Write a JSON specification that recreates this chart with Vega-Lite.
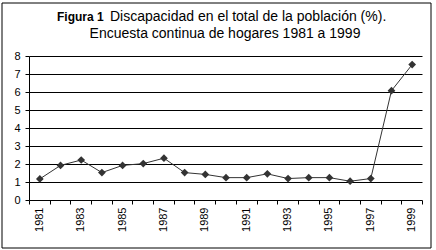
{
  "$schema": "https://vega.github.io/schema/vega-lite/v6.json",
  "width": 429,
  "height": 245,
  "autosize": "none",
  "padding": {"left": 1.5, "top": 2.5, "right": 5.5, "bottom": 2.5},
  "background": "white",
  "title": {
    "text": "Encuesta continua de hogares 1981 a 1999",
    "font": "Arial, Liberation Sans",
    "fontSize": 14,
    "fontWeight": "normal",
    "color": "black",
    "anchor": "middle",
    "dx": 9,
    "offset": -38
  },
  "datasets": {
    "series": [
      {"year": 1981, "value": 1.2},
      {"year": 1982, "value": 1.95},
      {"year": 1983, "value": 2.25},
      {"year": 1984, "value": 1.55},
      {"year": 1985, "value": 1.95},
      {"year": 1986, "value": 2.05},
      {"year": 1987, "value": 2.35},
      {"year": 1988, "value": 1.55},
      {"year": 1989, "value": 1.45},
      {"year": 1990, "value": 1.27},
      {"year": 1991, "value": 1.27},
      {"year": 1992, "value": 1.48},
      {"year": 1993, "value": 1.22},
      {"year": 1994, "value": 1.27},
      {"year": 1995, "value": 1.27},
      {"year": 1996, "value": 1.07},
      {"year": 1997, "value": 1.22},
      {"year": 1998, "value": 6.1},
      {"year": 1999, "value": 7.55}
    ],
    "grid": [
      {"v": 0}, {"v": 1}, {"v": 2}, {"v": 3}, {"v": 4}, {"v": 5}, {"v": 6}, {"v": 7}, {"v": 8}
    ],
    "one": [{}]
  },
  "config": {
    "view": {"stroke": "black", "strokeWidth": 1},
    "axis": {
      "translate": 0,
      "labelFont": "Arial, Liberation Sans",
      "labelFontSize": 11,
      "labelColor": "black",
      "tickColor": "black",
      "tickWidth": 1,
      "domain": false,
      "grid": false,
      "title": null
    }
  },
  "resolve": {"axis": {"x": "independent", "y": "independent"}},
  "layer": [
    {
      "data": {"name": "grid"},
      "mark": {"type": "rule", "color": "black", "strokeWidth": 1},
      "encoding": {
        "y": {
          "field": "v",
          "type": "quantitative",
          "scale": {"domain": [-2.6111, 11], "nice": false, "zero": false},
          "axis": null
        },
        "x": {
          "datum": 1980.5,
          "type": "quantitative",
          "scale": {"domain": [1979.1463, 1999.8868], "nice": false, "zero": false},
          "axis": {
            "orient": "bottom",
            "values": [1980.5, 1981.5, 1982.5, 1983.5, 1984.5, 1985.5, 1986.5, 1987.5, 1988.5, 1989.5, 1990.5, 1991.5, 1992.5, 1993.5, 1994.5, 1995.5, 1996.5, 1997.5, 1998.5, 1999.5],
            "labels": false,
            "offset": -47,
            "tickSize": 4,
            "title": "Discapacidad en el total de la población (%).",
            "titleFont": "Arial, Liberation Sans",
            "titleFontSize": 14,
            "titleFontWeight": "normal",
            "titleColor": "black",
            "titleAngle": 0,
            "titleAlign": "left",
            "titleBaseline": "alphabetic",
            "titleX": 108.5,
            "titleY": -179.2
          }
        },
        "x2": {"datum": 1999.5}
      }
    },
    {
      "data": {"name": "one"},
      "mark": {"type": "rule", "color": "black", "strokeWidth": 1},
      "encoding": {
        "x": {"datum": 1980.5, "type": "quantitative", "scale": {"domain": [1979.1463, 1999.8868], "nice": false, "zero": false}, "axis": null},
        "y": {"datum": 0, "type": "quantitative", "scale": {"domain": [-2.6111, 11], "nice": false, "zero": false}, "axis": null},
        "y2": {"datum": 8}
      }
    },
    {
      "data": {"name": "series"},
      "mark": {"type": "line", "color": "#333333", "strokeWidth": 1},
      "encoding": {
        "x": {
          "field": "year",
          "type": "quantitative",
          "scale": {"domain": [1979.1463, 1999.8868], "nice": false, "zero": false},
          "axis": {
            "orient": "bottom",
            "values": [1981, 1983, 1985, 1987, 1989, 1991, 1993, 1995, 1997, 1999],
            "format": "d",
            "labelAngle": -90,
            "ticks": false,
            "tickSize": 0,
            "labelPadding": 7,
            "offset": -47
          }
        },
        "y": {
          "field": "value",
          "type": "quantitative",
          "scale": {"domain": [-2.6111, 11], "nice": false, "zero": false},
          "axis": {
            "orient": "left",
            "values": [0, 1, 2, 3, 4, 5, 6, 7, 8],
            "offset": -28,
            "ticks": true,
            "tickSize": 4,
            "labels": true,
            "labelPadding": 5,
            "format": "d",
            "title": "Figura 1",
            "titleFont": "Arial, Liberation Sans",
            "titleFontSize": 12,
            "titleFontWeight": "bold",
            "titleColor": "black",
            "titleAngle": 0,
            "titleAlign": "left",
            "titleBaseline": "alphabetic",
            "titleX": 27.5,
            "titleY": 18.8
          }
        }
      }
    },
    {
      "data": {"name": "series"},
      "mark": {"type": "point", "shape": "diamond", "filled": true, "size": 60, "color": "#333333", "opacity": 1},
      "encoding": {
        "x": {"field": "year", "type": "quantitative", "scale": {"domain": [1979.1463, 1999.8868], "nice": false, "zero": false}, "axis": null},
        "y": {"field": "value", "type": "quantitative", "scale": {"domain": [-2.6111, 11], "nice": false, "zero": false}, "axis": null}
      }
    }
  ]
}
